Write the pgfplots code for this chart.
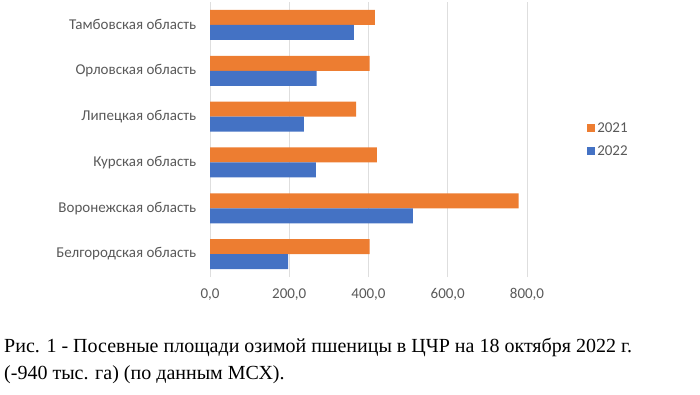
\documentclass[border=0pt]{standalone}
\usepackage{fontspec}
\setmainfont{Carlito}
\newfontfamily\capfont{Liberation Serif}
\usepackage{pgfplots}
\pgfplotsset{compat=1.18}
\definecolor{xorange}{HTML}{ED7D31}
\definecolor{xblue}{HTML}{4472C4}
\definecolor{txtgray}{HTML}{595959}
\begin{document}
\begin{tikzpicture}[x=1pt,y=1pt]
\path[use as bounding box] (0,0) rectangle (700,394);
\begin{axis}[
  at={(210pt,117pt)}, anchor=south west,
  scale only axis, width=317pt, height=275pt,
  xmin=0, xmax=800, ymin=-0.5, ymax=5.5,
  xbar, bar width=15pt,
  axis line style={draw=none},
  xtick={0,200,400,600,800},
  xmajorgrids, major grid style={draw=black!13, line width=0.8pt},
  tick style={draw=none},
  ytick={0,1,2,3,4,5},
  yticklabels={Белгородская область,Воронежская область,Курская область,Липецкая область,Орловская область,Тамбовская область},
  ticklabel style={font=\fontsize{15}{17}\selectfont, text=txtgray},
  yticklabel style={xshift=-6pt},
  xticklabel style={yshift=-8pt},
  /pgf/number format/.cd, fixed, fixed zerofill, precision=1, use comma, 1000 sep={}, assume math mode=true,
  /pgfplots/.cd,
  legend style={at={(1.18,0.5)}, anchor=west, draw=none, fill=none,
    font=\fontsize{15}{17}\selectfont, text=txtgray, row sep=8pt},
  legend cell align=left,
  legend image code/.code={\fill[#1] (0pt,-4pt) rectangle (8pt,4pt);},
]
\addplot[fill=xorange, draw=none, bar shift=7.5pt] coordinates {
  (403,0) (779,1) (421,2) (369,3) (403,4) (416,5)};
\addlegendentry{2021}
\addplot[fill=xblue, draw=none, bar shift=-7.5pt] coordinates {
  (197,0) (512,1) (267,2) (237,3) (269,4) (363,5)};
\addlegendentry{2022}
\end{axis}
\node[anchor=base west, font=\capfont\fontsize{20}{23}\selectfont, inner sep=0pt] at (4,42) {Рис. 1 - Посевные площади озимой пшеницы в ЦЧР на 18 октября 2022 г.};
\node[anchor=base west, font=\capfont\fontsize{20}{23}\selectfont, inner sep=0pt] at (4,15) {(-940 тыс. га) (по данным МСХ).};
\end{tikzpicture}
\end{document}
